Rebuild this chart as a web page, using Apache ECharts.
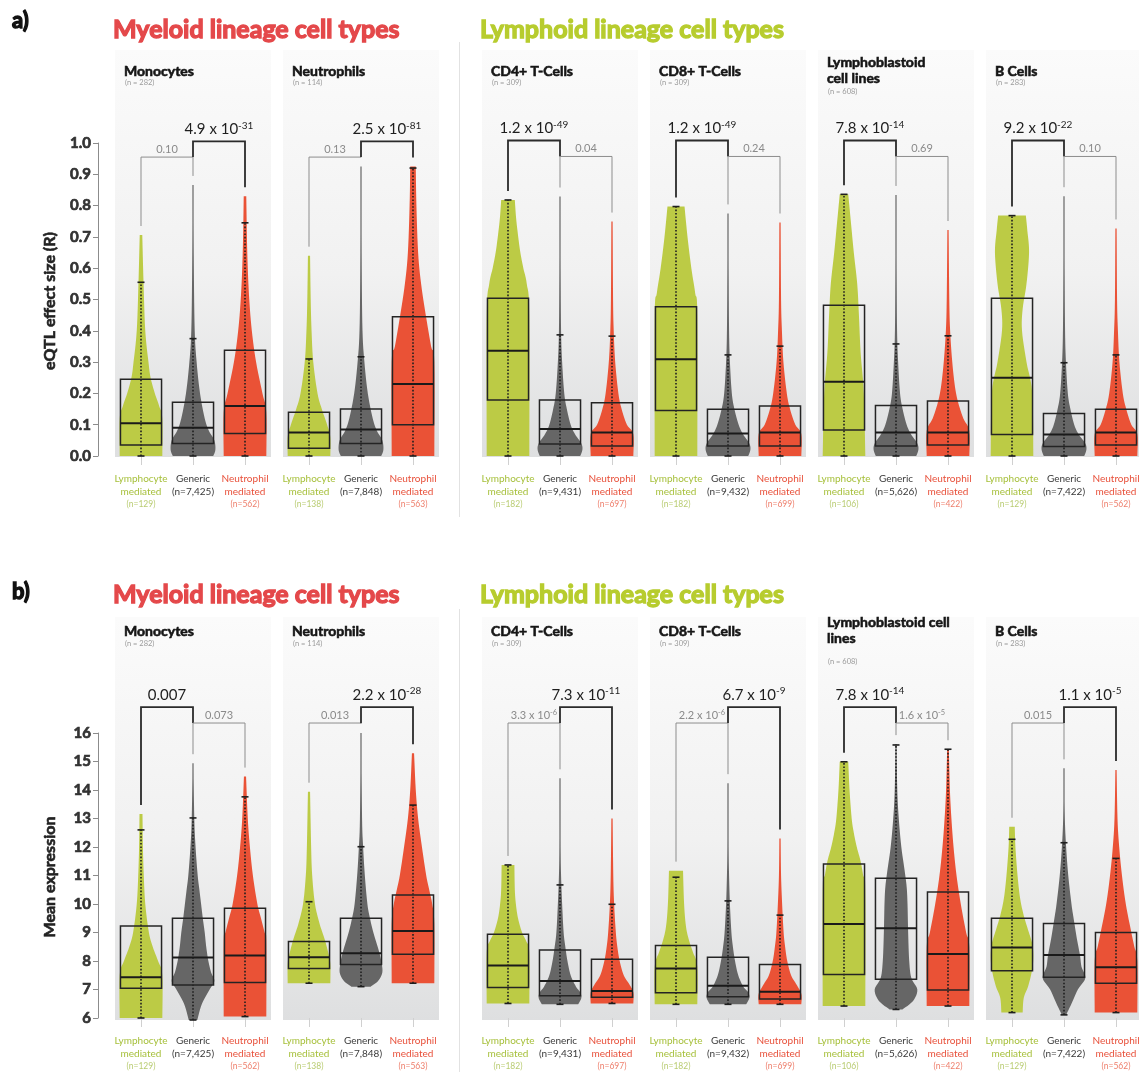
<!DOCTYPE html>
<html>
<head>
<meta charset="utf-8">
<script src="https://cdn.jsdelivr.net/npm/echarts@6/dist/echarts.min.js"></script>
<style>html,body{margin:0;padding:0;background:#fff}#c{width:1139px;height:1072px}</style>
</head>
<body>
<div id="c"></div>
<script>
// ---------------- DATA ----------------
const panelNamesA = ['Monocytes','Neutrophils','CD4+ T-Cells','CD8+ T-Cells','Lymphoblastoid\ncell lines','B Cells'];
const panelNamesB = ['Monocytes','Neutrophils','CD4+ T-Cells','CD8+ T-Cells','Lymphoblastoid cell\nlines','B Cells'];
const panelSizes = ['(n = 282)','(n = 114)','(n = 309)','(n = 309)','(n = 608)','(n = 283)'];
const categories = ['Lymphocyte mediated','Generic','Neutrophil mediated'];
const groupCounts = [
  ['129','7,425','562'],['138','7,848','563'],['182','9,431','697'],
  ['182','9,432','699'],['106','5,626','422'],['129','7,422','562']
];
const effectTicks = [0,0.1,0.2,0.3,0.4,0.5,0.6,0.7,0.8,0.9,1.0];
const exprTicks = [6,7,8,9,10,11,12,13,14,15,16];

// stats per group: [min, q1, median, q3, upperWhisker, max]
const effectStats = [
  [[0,0.035,0.105,0.245,0.555,0.706],[0,0.04,0.09,0.172,0.375,0.866],[0,0.072,0.16,0.338,0.745,0.83]],
  [[0,0.025,0.075,0.14,0.31,0.64],[0,0.04,0.085,0.15,0.317,0.925],[0,0.10,0.23,0.445,0.92,0.925]],
  [[0,0.179,0.336,0.504,0.818,0.818],[0,0.038,0.086,0.179,0.387,0.829],[0,0.032,0.075,0.17,0.383,0.749]],
  [[0,0.145,0.309,0.477,0.797,0.797],[0,0.032,0.072,0.149,0.323,0.775],[0,0.032,0.075,0.16,0.351,0.746]],
  [[0,0.083,0.237,0.482,0.836,0.836],[0,0.032,0.075,0.161,0.358,0.834],[0,0.035,0.075,0.176,0.384,0.722]],
  [[0,0.069,0.25,0.504,0.768,0.768],[0,0.03,0.069,0.136,0.298,0.83],[0,0.035,0.075,0.149,0.323,0.727]]
];
const exprStats = [
  [[6.0,7.04,7.43,9.23,12.6,13.16],[5.93,7.16,8.12,9.5,13.02,14.94],[6.05,7.25,8.19,9.85,13.76,14.47]],
  [[7.22,7.74,8.13,8.68,10.08,13.94],[7.1,7.88,8.27,9.5,12.01,16.0],[7.22,8.24,9.05,10.32,13.47,15.29]],
  [[6.51,7.07,7.84,8.94,11.37,11.37],[6.48,6.78,7.30,8.39,10.67,14.41],[6.51,6.73,6.95,8.06,9.99,13.0]],
  [[6.48,6.89,7.74,8.54,10.94,11.17],[6.48,6.75,7.13,8.13,10.11,14.24],[6.48,6.67,6.92,7.88,9.61,12.3]],
  [[6.42,7.53,9.30,11.4,14.99,14.99],[6.3,7.36,9.15,10.9,15.58,15.61],[6.42,6.98,8.25,10.42,15.43,15.43]],
  [[6.19,7.66,8.47,9.5,12.27,12.71],[6.11,7.43,8.21,9.32,12.15,14.76],[6.19,7.22,7.78,9.0,11.6,14.7]]
];

// violin outlines: [value, relative width]
const effectShapes = [
  [
    [[0,1],[0.12,1],[0.16,0.85],[0.2,0.65],[0.25,0.45],[0.3,0.35],[0.4,0.2],[0.55,0.12],[0.706,0.06]],
    [[0,0.95],[0.02,1.05],[0.05,1.0],[0.08,0.75],[0.12,0.55],[0.2,0.33],[0.3,0.17],[0.4,0.08],[0.6,0.04],[0.866,0.02]],
    [[0,1],[0.14,1],[0.2,0.82],[0.3,0.52],[0.4,0.32],[0.5,0.2],[0.6,0.13],[0.7,0.09],[0.83,0.06]]
  ],
  [
    [[0,1],[0.06,1],[0.1,0.85],[0.15,0.6],[0.2,0.4],[0.3,0.2],[0.4,0.12],[0.5,0.08],[0.64,0.05]],
    [[0,0.95],[0.02,1.05],[0.05,1.0],[0.08,0.75],[0.12,0.55],[0.2,0.32],[0.3,0.16],[0.4,0.07],[0.6,0.035],[0.925,0.02]],
    [[0,1],[0.3,1],[0.35,0.85],[0.45,0.6],[0.55,0.38],[0.65,0.24],[0.8,0.16],[0.925,0.13]]
  ],
  [
    [[0,1],[0.45,1],[0.55,0.88],[0.6,0.72],[0.65,0.58],[0.7,0.48],[0.76,0.38],[0.818,0.32]],
    [[0,0.95],[0.02,1.05],[0.04,1.0],[0.07,0.7],[0.1,0.5],[0.15,0.32],[0.2,0.2],[0.3,0.1],[0.4,0.05],[0.6,0.03],[0.829,0.015]],
    [[0,1],[0.07,1],[0.1,0.7],[0.15,0.45],[0.2,0.3],[0.3,0.15],[0.4,0.08],[0.5,0.05],[0.749,0.03]]
  ],
  [
    [[0,1],[0.45,1],[0.52,0.9],[0.6,0.72],[0.7,0.54],[0.797,0.4]],
    [[0,0.95],[0.02,1.05],[0.04,1.0],[0.07,0.7],[0.1,0.5],[0.15,0.3],[0.2,0.18],[0.3,0.09],[0.4,0.05],[0.6,0.03],[0.775,0.015]],
    [[0,1],[0.07,1],[0.1,0.72],[0.15,0.47],[0.2,0.32],[0.3,0.16],[0.4,0.09],[0.5,0.05],[0.746,0.03]]
  ],
  [
    [[0,1],[0.2,0.93],[0.33,0.78],[0.45,0.7],[0.55,0.62],[0.65,0.46],[0.75,0.32],[0.836,0.2]],
    [[0,0.95],[0.02,1.05],[0.04,1.0],[0.07,0.7],[0.1,0.5],[0.15,0.31],[0.2,0.19],[0.3,0.1],[0.4,0.05],[0.6,0.03],[0.834,0.015]],
    [[0,1],[0.08,1],[0.12,0.72],[0.17,0.48],[0.22,0.33],[0.3,0.2],[0.4,0.1],[0.5,0.06],[0.722,0.03]]
  ],
  [
    [[0,1],[0.2,0.95],[0.3,0.68],[0.4,0.47],[0.47,0.5],[0.55,0.68],[0.65,0.8],[0.72,0.72],[0.768,0.65]],
    [[0,0.95],[0.02,1.05],[0.04,1.0],[0.07,0.68],[0.1,0.48],[0.15,0.3],[0.2,0.18],[0.3,0.09],[0.4,0.05],[0.6,0.03],[0.83,0.015]],
    [[0,1],[0.07,1],[0.1,0.72],[0.15,0.48],[0.2,0.32],[0.3,0.16],[0.4,0.09],[0.5,0.05],[0.727,0.03]]
  ]
];
const exprShapes = [
  [
    [[6.0,1],[7.5,1],[8.0,0.8],[8.5,0.55],[9.0,0.37],[10,0.2],[11,0.13],[12,0.09],[13.16,0.07]],
    [[5.93,0.2],[6.5,0.42],[7.0,0.78],[7.3,1.0],[7.6,0.85],[8.0,0.72],[8.5,0.62],[9.0,0.55],[9.5,0.46],[10,0.38],[10.5,0.3],[11,0.22],[12,0.12],[13,0.06],[14.94,0.02]],
    [[6.05,1],[8.7,1],[9.0,0.92],[9.5,0.75],[10,0.58],[11,0.37],[12,0.23],[13,0.13],[14.47,0.05]]
  ],
  [
    [[7.22,1],[7.9,1],[8.3,0.9],[8.8,0.72],[9.3,0.5],[10,0.28],[11,0.15],[12,0.1],[13.94,0.05]],
    [[7.1,0.45],[7.3,0.8],[7.6,1.0],[8.0,0.95],[8.4,0.82],[9.0,0.58],[9.5,0.42],[10,0.3],[11,0.18],[12,0.1],[13,0.05],[16.0,0.015]],
    [[7.22,1],[9.3,1],[10,0.9],[10.5,0.76],[11,0.62],[12,0.42],[13,0.24],[14,0.13],[15.29,0.05]]
  ],
  [
    [[6.51,1],[8.3,1],[8.7,0.85],[9.0,0.66],[9.5,0.47],[10,0.37],[10.5,0.32],[11.37,0.3]],
    [[6.48,0.85],[6.7,1.0],[6.9,0.95],[7.1,0.75],[7.5,0.5],[8.0,0.35],[8.5,0.25],[9.0,0.17],[10,0.1],[11,0.05],[12,0.03],[14.41,0.015]],
    [[6.51,1],[6.9,1],[7.2,0.8],[7.5,0.55],[8.0,0.36],[8.5,0.25],[9.0,0.18],[10,0.1],[11,0.06],[13.0,0.03]]
  ],
  [
    [[6.48,1],[7.8,1],[8.3,0.8],[8.7,0.62],[9.2,0.47],[10,0.38],[11.17,0.33]],
    [[6.48,0.85],[6.7,1.0],[6.9,0.95],[7.1,0.72],[7.5,0.48],[8.0,0.33],[8.5,0.23],[9.0,0.16],[10,0.09],[11,0.05],[12,0.03],[14.24,0.015]],
    [[6.48,1],[6.85,1],[7.2,0.75],[7.5,0.52],[8.0,0.34],[8.5,0.24],[9.0,0.17],[10,0.1],[11,0.05],[12.3,0.03]]
  ],
  [
    [[6.42,1],[10.5,1],[11,0.9],[11.5,0.78],[12,0.6],[12.5,0.46],[13,0.36],[14,0.26],[14.99,0.2]],
    [[6.3,0.3],[6.6,0.8],[7.0,1.0],[7.4,0.72],[8.0,0.62],[9.0,0.57],[10,0.54],[10.6,0.5],[11.2,0.4],[12,0.25],[13,0.13],[14,0.06],[15.61,0.02]],
    [[6.42,1],[8.5,1],[9.0,0.85],[10,0.6],[11,0.4],[12,0.26],[13,0.16],[14,0.09],[15.43,0.04]]
  ],
  [
    [[6.19,0.5],[6.7,0.55],[7.1,0.75],[7.6,0.92],[8.1,1.0],[8.6,0.95],[9.1,0.75],[9.6,0.55],[10.2,0.38],[11,0.26],[12,0.16],[12.71,0.13]],
    [[6.11,0.1],[6.5,0.35],[7.0,0.65],[7.4,1.0],[7.8,0.82],[8.2,0.75],[8.8,0.6],[9.5,0.45],[10,0.35],[11,0.2],[12,0.1],[13,0.04],[14.76,0.015]],
    [[6.19,1],[8.0,1],[8.5,0.86],[9.0,0.72],[10,0.46],[11,0.28],[12,0.15],[13,0.07],[14.7,0.03]]
  ]
];

// brackets: [fromGroup, toGroup, level, significant, text, exponent]
const effectBrackets = [
  [[0,1,0.955,0,'0.10',''],[1,2,1.005,1,'4.9 x 10','-31']],
  [[0,1,0.955,0,'0.13',''],[1,2,1.005,1,'2.5 x 10','-81']],
  [[0,1,1.008,1,'1.2 x 10','-49'],[1,2,0.957,0,'0.04','']],
  [[0,1,1.008,1,'1.2 x 10','-49'],[1,2,0.957,0,'0.24','']],
  [[0,1,1.008,1,'7.8 x 10','-14'],[1,2,0.957,0,'0.69','']],
  [[0,1,1.008,1,'9.2 x 10','-22'],[1,2,0.957,0,'0.10','']]
];
const exprBrackets = [
  [[0,1,16.91,1,'0.007',''],[1,2,16.35,0,'0.073','']],
  [[0,1,16.35,0,'0.013',''],[1,2,16.91,1,'2.2 x 10','-28']],
  [[0,1,16.35,0,'3.3 x 10','-6'],[1,2,16.91,1,'7.3 x 10','-11']],
  [[0,1,16.35,0,'2.2 x 10','-6'],[1,2,16.91,1,'6.7 x 10','-9']],
  [[0,1,16.91,1,'7.8 x 10','-14'],[1,2,16.35,0,'1.6 x 10','-5']],
  [[0,1,16.35,0,'0.015',''],[1,2,16.91,1,'1.1 x 10','-5']]
];

// ---------------- STYLE / LAYOUT ----------------
const FONT = 'Lato, "Open Sans", sans-serif';
const groupColors = ['#bccb45','#666666','#ea5236'];
const gridLefts = [115,283,482,650,818,986];
const PW = 156;
const rows = [
  {gridTop:143, gridH:313, bgTop:50, bgBot:457, min:0, max:1, interval:0.1, ticks:effectTicks, dec:1,
   stats:effectStats, shapes:effectShapes, brackets:effectBrackets, names:panelNamesA,
   headY:71, nY:83, titleY:30, tag:'a)', tagY:21, yName:'eQTL effect size (R)', yNameY:301},
  {gridTop:733, gridH:285, bgTop:617, bgBot:1020, min:6, max:16, interval:1, ticks:exprTicks, dec:0,
   stats:exprStats, shapes:exprShapes, brackets:exprBrackets, names:panelNamesB,
   headY:631, nY:644, titleY:595, tag:'b)', tagY:592, yName:'Mean expression', yNameY:877}
];

const labelRich = {
  l:{color:'#a7c03c', fontSize:10, lineHeight:12.5, fontFamily:FONT},
  ln:{color:'#b9cc72', fontSize:8.5, lineHeight:12.5, fontFamily:FONT},
  g:{color:'#3a3a3a', fontSize:10, lineHeight:12.5, fontFamily:FONT},
  r:{color:'#e8503a', fontSize:10, lineHeight:12.5, fontFamily:FONT},
  rn:{color:'#ee7f6c', fontSize:8.5, lineHeight:12.5, fontFamily:FONT}
};

// Catmull-Rom curve through outline points (rendering only)
function smoothPath(pts, steps) {
  const out = [];
  for (let i = 0; i < pts.length - 1; i++) {
    const p0 = pts[Math.max(i-1,0)], p1 = pts[i], p2 = pts[i+1], p3 = pts[Math.min(i+2,pts.length-1)];
    for (let s = 0; s < steps; s++) {
      const t = s/steps, t2 = t*t, t3 = t2*t;
      const f = (a,b,c,d) => 0.5*((2*b) + (-a+c)*t + (2*a-5*b+4*c-d)*t2 + (-a+3*b-3*c+d)*t3);
      out.push([f(p0[0],p1[0],p2[0],p3[0]), f(p0[1],p1[1],p2[1],p3[1])]);
    }
  }
  out.push(pts[pts.length-1]);
  return out;
}

function boldText(x, y, text, size, color, extra) {
  return Object.assign({type:'text', x:x, y:y, style:Object.assign({text:text, font:'bold ' + size + 'px ' + FONT,
    fill:color, stroke:color, lineWidth:size > 18 ? 1.3 : 0.8, textVerticalAlign:'middle', verticalAlign:'middle'},
    (extra && extra.style) || {})}, (extra && extra.el) || {});
}

const grids = [], xAxes = [], yAxes = [], series = [], graphics = [];

rows.forEach((row, ri) => {
  gridLefts.forEach((gl) => {
    graphics.push({type:'rect', z:-10, shape:{x:gl, y:row.bgTop, width:PW, height:row.bgBot-row.bgTop},
      style:{fill:new echarts.graphic.LinearGradient(0,0,0,1,[
        {offset:0,color:'#fbfbfb'},{offset:0.55,color:'#f1f1f1'},{offset:1,color:'#dedfe0'}])}});
  });
  graphics.push({type:'line', z:-9, shape:{x1:459.5, y1:row.bgTop-8, x2:459.5, y2:row.bgBot+60},
    style:{stroke:'#e2e2e2', lineWidth:1}});
  graphics.push(boldText(12, row.tagY, row.tag, 22, '#111'));
  graphics.push(boldText(113, row.titleY, 'Myeloid lineage cell types', 25, '#e4484a'));
  graphics.push(boldText(480, row.titleY, 'Lymphoid lineage cell types', 25, '#b7cc2e'));
  graphics.push(boldText(50, row.yNameY, row.yName, 16, '#222',
    {el:{rotation:Math.PI/2}, style:{textAlign:'center', align:'center', lineWidth:0.6}}));

  gridLefts.forEach((gl, p) => {
    const gi = ri*6 + p;
    const twoLine = row.names[p].indexOf('\n') >= 0;
    graphics.push(boldText(gl+9, twoLine ? row.headY-1 : row.headY, row.names[p], 14, '#151515',
      {style:{lineHeight:16, lineWidth:0.6}}));
    graphics.push({type:'text', x:gl+10, y:twoLine ? row.nY+(ri===0?9:18) : row.nY, style:{text:panelSizes[p],
      font:'7.5px '+FONT, fill:'#9a9a9a', textVerticalAlign:'middle', verticalAlign:'middle'}});

    grids.push({left:gl, top:row.gridTop, width:PW, height:row.gridH, containLabel:false, outerBoundsMode:'none'});
    xAxes.push({type:'category', gridIndex:gi, data:categories, boundaryGap:true,
      axisLine:{show:false},
      axisTick:{show:true, alignWithLabel:true, length:9, lineStyle:{color:'#d0d0d0', width:1}},
      splitLine:{show:false},
      axisLabel:{interval:0, margin:17, rich:labelRich, fontFamily:FONT,
        formatter:(v, idx) => {
          const n = groupCounts[p];
          if (idx === 0) return '{l|Lymphocyte}\n{l|mediated}\n{ln|(n=' + n[0] + ')}';
          if (idx === 1) return '{g|Generic}\n{g|(n=' + n[1] + ')}';
          return '{r|Neutrophil}\n{r|mediated}\n{rn|(n=' + n[2] + ')}';
        }}});
    yAxes.push({type:'value', gridIndex:gi, min:row.min, max:row.max, interval:row.interval,
      show: p === 0, offset:17, position:'left',
      axisLine:{show:true, lineStyle:{color:'#8c8c8c', width:1}},
      axisTick:{show:true, length:5, lineStyle:{color:'#8c8c8c'}},
      splitLine:{show:false},
      axisLabel:{margin:7, color:'#333', fontWeight:'bold', fontSize:15, fontFamily:FONT,
        textBorderColor:'#333', textBorderWidth:0.7,
        formatter:(v) => v.toFixed(row.dec)}});

    const stats = row.stats[p], shapes = row.shapes[p], brs = row.brackets[p];
    series.push({type:'custom', xAxisIndex:gi, yAxisIndex:gi, clip:false, silent:true, z:2,
      encode:{x:0, y:[1,2,3,4,5,6]},
      data: stats.map((s, g) => [g].concat(s)),
      renderItem:(params, api) => {
        const g = api.value(0);
        const mn = api.value(1), q1 = api.value(2), md = api.value(3), q3 = api.value(4), wh = api.value(5);
        const cx = api.coord([g, mn])[0];
        const band = api.size([1, 0])[0];
        const half = band*0.41, bh = band*0.395;
        const prof = shapes[g].map(pt => [pt[1]*half, api.coord([g, pt[0]])[1]]);
        const curve = smoothPath(prof, 6).map(q => [Math.max(q[0], 0.6), q[1]]);
        const right = curve.map(q => [cx + q[0], q[1]]);
        const left = curve.slice().reverse().map(q => [cx - q[0], q[1]]);
        const yMin = api.coord([g, mn])[1], yQ1 = api.coord([g, q1])[1], yMd = api.coord([g, md])[1],
              yQ3 = api.coord([g, q3])[1], yWh = api.coord([g, wh])[1];
        const dark = '#1e1e1e';
        return {type:'group', children:[
          {type:'polygon', shape:{points:right.concat(left)}, style:{fill:groupColors[g]}},
          {type:'line', shape:{x1:cx, y1:yMin, x2:cx, y2:yWh}, style:{stroke:dark, lineWidth:1.6, lineDash:[1.6,1.8]}},
          {type:'line', shape:{x1:cx-3.5, y1:yWh, x2:cx+3.5, y2:yWh}, style:{stroke:dark, lineWidth:1.6}},
          {type:'line', shape:{x1:cx-3.5, y1:yMin, x2:cx+3.5, y2:yMin}, style:{stroke:dark, lineWidth:1.6}},
          {type:'rect', shape:{x:cx-bh, y:yQ3, width:2*bh, height:yQ1-yQ3}, style:{fill:'none', stroke:'#242424', lineWidth:1.5}},
          {type:'line', shape:{x1:cx-bh, y1:yMd, x2:cx+bh, y2:yMd}, style:{stroke:'#1a1a1a', lineWidth:2}}
        ]};
      }});
    series.push({type:'custom', xAxisIndex:gi, yAxisIndex:gi, clip:false, silent:true, z:3,
      encode:{x:0, y:1},
      data: brs.map(b => [b[0], b[2], b[1], b[3]]),
      renderItem:(params, api) => {
        const b = brs[params.dataIndex];
        const lev = b[2], sig = b[3];
        const xa = api.coord([b[0], lev])[0], xb = api.coord([b[1], lev])[0], y = api.coord([b[0], lev])[1];
        const legEnd = (c) => {
          const lower = brs.filter(o => o !== b && (o[0] === c || o[1] === c) && o[2] < lev);
          if (lower.length) return api.coord([c, lower[0][2]])[1];
          return api.coord([c, stats[c][5]])[1] - 9;
        };
        const col = sig ? '#2b2b2b' : '#8d8d8d';
        const txt = b[5] ? ('{m|' + b[4] + '}{s|' + b[5] + '}') : ('{m|' + b[4] + '}');
        const rich = sig ? {
          m:{fontSize:15, fontFamily:FONT, fill:'#1e1e1e', color:'#1e1e1e', lineHeight:18},
          s:{fontSize:10, fontFamily:FONT, fill:'#1e1e1e', color:'#1e1e1e', lineHeight:10, verticalAlign:'top'}
        } : {
          m:{fontSize:11, fontFamily:FONT, fill:'#8a8a8a', color:'#8a8a8a', lineHeight:13},
          s:{fontSize:7.5, fontFamily:FONT, fill:'#8a8a8a', color:'#8a8a8a', lineHeight:8, verticalAlign:'top'}
        };
        return {type:'group', children:[
          {type:'polyline', shape:{points:[[xa, legEnd(b[0])],[xa, y],[xb, y],[xb, legEnd(b[1])]]},
            style:{stroke:col, lineWidth: sig ? 1.8 : 1, fill:null}},
          {type:'text', x:(xa+xb)/2, y: y - (sig ? 3 : 1.5), style:{text:txt, rich:rich,
            textAlign:'center', align:'center', textVerticalAlign:'bottom', verticalAlign:'bottom'}}
        ]};
      }});
  });
});

const chart = echarts.init(document.getElementById('c'), null, {renderer:'canvas'});
chart.setOption({
  backgroundColor:'#ffffff',
  animation:false,
  textStyle:{fontFamily:FONT},
  grid:grids, xAxis:xAxes, yAxis:yAxes, series:series,
  graphic:{elements:graphics}
});
</script>
</body>
</html>
